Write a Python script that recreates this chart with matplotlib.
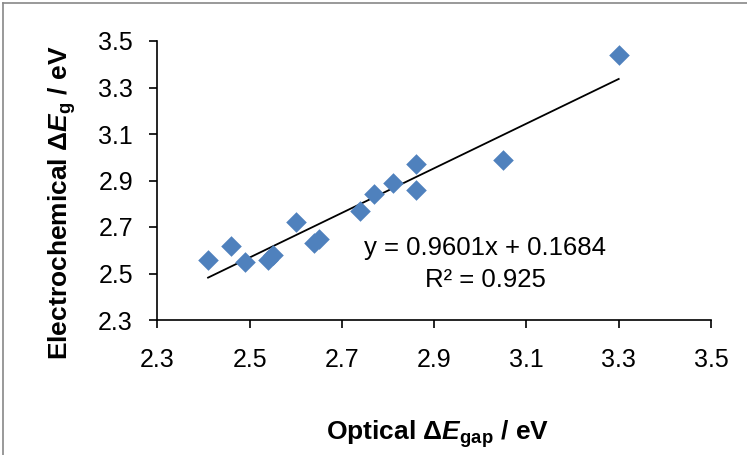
import matplotlib
matplotlib.use("Agg")
import matplotlib.pyplot as plt
from matplotlib.lines import Line2D

plt.rcParams['font.family'] = ['Liberation Sans', 'DejaVu Sans']
plt.rcParams['mathtext.fontset'] = 'custom'
plt.rcParams['mathtext.rm'] = 'Liberation Sans'
plt.rcParams['mathtext.it'] = 'Liberation Sans:italic'
plt.rcParams['mathtext.bf'] = 'Liberation Sans:bold'
plt.rcParams['mathtext.bfit'] = 'Liberation Sans:italic:bold'

# Data
optical_gap = [2.41, 2.46, 2.49, 2.54, 2.55, 2.60, 2.64, 2.65, 2.74, 2.77, 2.81, 2.86, 2.86, 3.05, 3.30]
electro_gap = [2.56, 2.62, 2.55, 2.56, 2.58, 2.72, 2.63, 2.65, 2.77, 2.84, 2.89, 2.97, 2.86, 2.99, 3.44]
slope = 0.9601
intercept = 0.1684
r_squared = 0.925
ticks = [2.3, 2.5, 2.7, 2.9, 3.1, 3.3, 3.5]
tick_labels = ['2.3', '2.5', '2.7', '2.9', '3.1', '3.3', '3.5']

W, H = 747, 455
fig = plt.figure(figsize=(W / 100, H / 100), dpi=100)
ax = fig.add_axes([157.3 / W, 1 - 320 / H, (711 - 157.3) / W, (320 - 41) / H])

ax.scatter(optical_gap, electro_gap, marker='D', s=110, color='#4F81BD',
           linewidths=0, zorder=3)

x0, x1 = min(optical_gap), max(optical_gap)
ax.plot([x0, x1], [slope * x0 + intercept, slope * x1 + intercept],
        color='black', lw=1.3, zorder=2)

ax.set_xlim(2.3, 3.5)
ax.set_ylim(2.3, 3.5)
ax.set_xticks(ticks)
ax.set_xticklabels(tick_labels)
ax.set_yticks(ticks)
ax.set_yticklabels(tick_labels)
for s in ['top', 'right']:
    ax.spines[s].set_visible(False)
for s in ['left', 'bottom']:
    ax.spines[s].set_linewidth(1.2)
    ax.spines[s].set_color('black')
ax.tick_params(axis='both', direction='out', length=5.5, width=1.2,
               labelsize=18, colors='black')
ax.tick_params(axis='y', pad=12)
ax.tick_params(axis='x', pad=15)

fig.text(485.5 / W, 1 - 255 / H, f'y = {slope}x + {intercept}',
         ha='center', va='baseline', fontsize=18.5)
fig.text(485.5 / W, 1 - 287 / H, f'R² = {r_squared}',
         ha='center', va='baseline', fontsize=18.5)

fig.text(437.5 / W, 1 - 434.5 / H, r'Optical Δ$\mathbfit{E}_{\mathbf{gap}}$ / eV',
         ha='center', va='center', fontsize=19, fontweight='bold')
fig.text(62 / W, 1 - 202.5 / H, r'Electrochemical Δ$\mathbfit{E}_{\mathbf{g}}$ / eV',
         ha='center', va='center', rotation=90, fontsize=19, fontweight='bold')

# figure border (top and left visible)
fig.add_artist(Line2D([3 / W, 3 / W], [0, 1 - 3 / H], transform=fig.transFigure,
                      color='#888888', lw=1.2))
fig.add_artist(Line2D([3 / W, 1], [1 - 3 / H, 1 - 3 / H], transform=fig.transFigure,
                      color='#888888', lw=1.2))

fig.savefig('out.png', dpi=100)
